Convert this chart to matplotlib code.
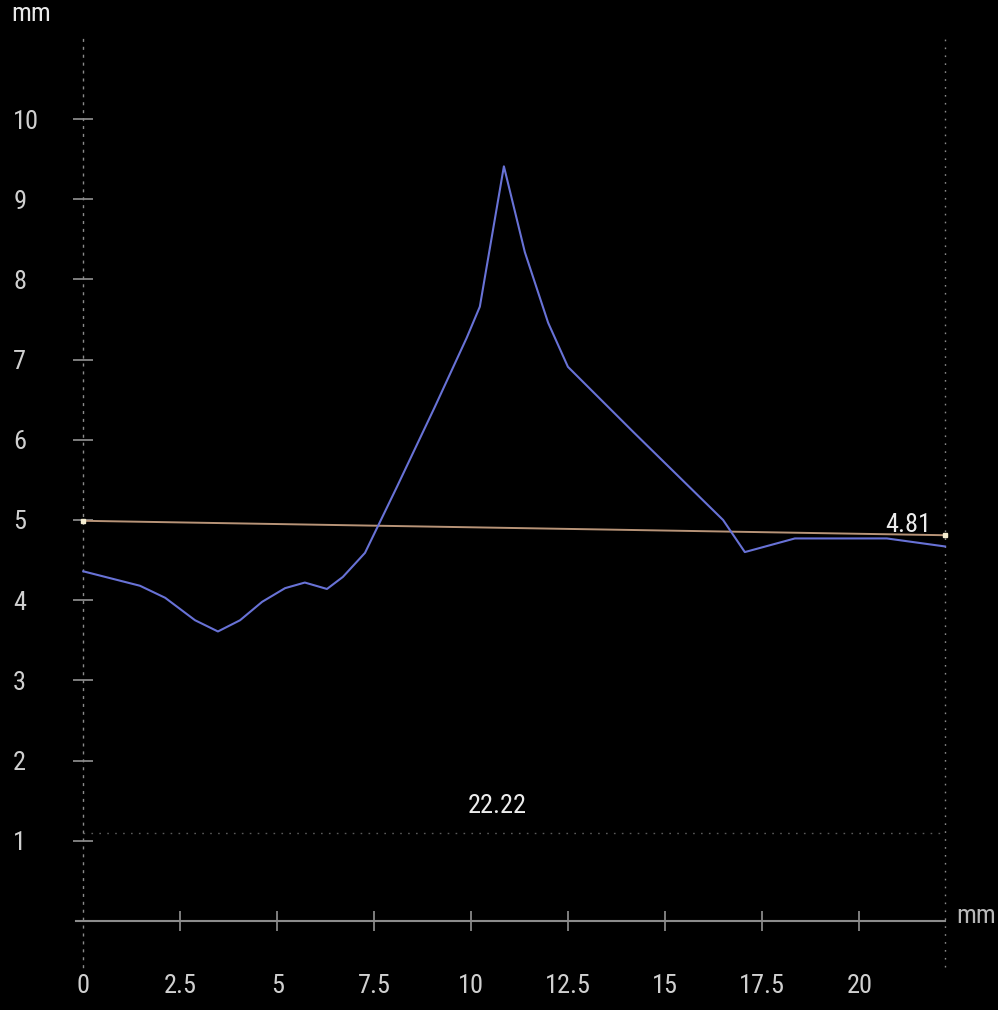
import matplotlib
matplotlib.use("Agg")
import matplotlib.pyplot as plt
import matplotlib.font_manager as fm

# profile data (mm)
profile_x = [0, 1.46, 2.11, 2.88, 3.47, 4.04, 4.61, 5.20, 5.71, 6.28, 6.69, 7.26,
             8.08, 9.06, 9.88, 10.22, 10.84, 11.38, 11.98, 12.49, 14.17, 16.49,
             17.05, 18.34, 20.71, 22.21]
profile_y = [4.36, 4.18, 4.03, 3.75, 3.61, 3.75, 3.98, 4.15, 4.22, 4.14, 4.29, 4.59,
             5.41, 6.41, 7.27, 7.66, 9.41, 8.34, 7.46, 6.91, 6.10, 5.00,
             4.60, 4.77, 4.77, 4.67]

# reference line
ref_x = [0, 22.22]
ref_y = [4.99, 4.81]
ref_label = "4.81"

length = 22.22
length_y = 1.1

xticks = [0, 2.5, 5, 7.5, 10, 12.5, 15, 17.5, 20]
xtick_labels = ["0", "2.5", "5", "7.5", "10", "12.5", "15", "17.5", "20"]
yticks = [1, 2, 3, 4, 5, 6, 7, 8, 9, 10]
ytick_labels = [str(v) for v in yticks]

names = {f.name for f in fm.fontManager.ttflist}
fam = "DejaVu Sans"
for cand in ["Roboto Condensed", "Liberation Sans Narrow", "Roboto"]:
    if cand in names:
        fam = cand
        break
plt.rcParams["font.family"] = [fam, "DejaVu Sans"]
fs = 19

fig = plt.figure(figsize=(9.98, 10.10), dpi=100, facecolor="black")
ax = fig.add_axes([0, 0, 1, 1], facecolor="black")
ax.set_xlim(-2.147, 23.575)
ax.set_ylim(-1.110, 11.484)

# axes
for s in ["top", "right"]:
    ax.spines[s].set_visible(False)
ax.spines["left"].set_position(("data", 0))
ax.spines["left"].set_bounds(-0.57, 11.0)
ax.spines["left"].set_color("#8a8a8a")
ax.spines["left"].set_linewidth(1.0)
ax.spines["left"].set_linestyle((0, (1.2, 4.5)))
ax.spines["bottom"].set_position(("data", 0))
ax.spines["bottom"].set_bounds(-0.2, length)
ax.spines["bottom"].set_color("#8c8c8c")
ax.spines["bottom"].set_linewidth(1.5)

ax.set_xticks(xticks, xtick_labels)
ax.set_yticks(yticks, ytick_labels)
ax.tick_params(axis="x", direction="inout", length=14, width=1.1, color="#a0a0a0",
               pad=31.5, labelcolor="#d0d0d0", labelsize=fs)
ax.tick_params(axis="y", direction="inout", length=14, width=1.1, color="#a0a0a0",
               pad=43.5, labelcolor="#d0d0d0", labelsize=fs)
for lab in ax.get_yticklabels():
    lab.set_horizontalalignment("left")
# no solid tick mark where the dotted y axis crosses
ax.xaxis.get_major_ticks()[0].tick1line.set_visible(False)

# right limit and length marker
ax.vlines(length, -0.57, 11.0, color="#8a8a8a", linewidth=1.0, linestyles=[(0, (1.2, 4.5))])
ax.hlines(length_y, 0, length, color="#5a5a5a", linewidth=1.0, linestyles=[(0, (1.2, 4.5))])
ax.text(10.67, length_y + 0.18, f"{length:.2f}", color="#ececec", fontsize=fs,
        ha="center", va="bottom")

# curves
ax.plot(ref_x, ref_y, color="#b89478", linewidth=1.4, zorder=3)
ax.plot(ref_x, ref_y, linestyle="none", marker="s", markersize=3.5,
        color="#f4ecd0", zorder=4)
ax.text(21.85, ref_y[1] + 0.04, ref_label, color="#ececec", fontsize=fs,
        ha="right", va="baseline")
ax.plot(profile_x, profile_y, color="#6872d6", linewidth=1.5, zorder=3)

# units
ax.text(-1.35, 11.31, "mm", color="#e8e8e8", fontsize=fs, ha="center", va="center")
ax.text(23.52, 0.06, "mm", color="#b8b8b8", fontsize=fs, ha="right", va="center")

fig.savefig("out.png", dpi=100, facecolor="black")
